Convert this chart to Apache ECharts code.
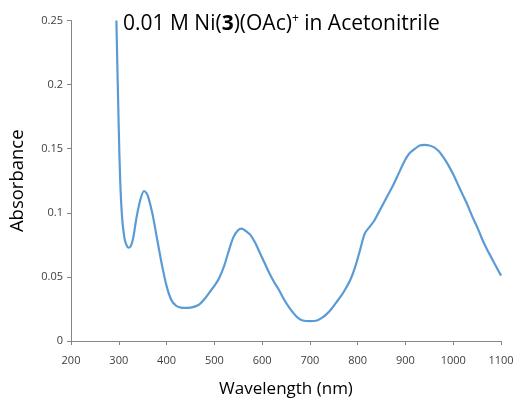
<!DOCTYPE html>
<html><head><meta charset="utf-8">
<script src="https://cdn.jsdelivr.net/npm/echarts@6/dist/echarts.min.js"></script>
<style>html,body{margin:0;padding:0;background:#fff}#c{width:518px;height:403px}</style>
</head><body><div id="c"></div>
<script>
const wavelength = [295, 300, 303, 307, 312, 316, 320, 325, 330, 337, 345, 353, 360, 370, 380, 390, 400, 410, 420, 430, 440, 450, 460, 470, 480, 490, 500, 510, 520, 530, 540, 550, 557, 565, 575, 585, 595, 605, 615, 625, 635, 645, 655, 665, 675, 685, 700, 715, 725, 735, 745, 755, 765, 775, 785, 795, 805, 815, 825, 835, 845, 855, 865, 875, 885, 895, 902, 910, 920, 930, 940, 950, 960, 970, 980, 990, 1000, 1010, 1020, 1030, 1040, 1050, 1060, 1070, 1080, 1090, 1100];
const absorbance = [0.25, 0.165, 0.125, 0.096, 0.080, 0.075, 0.0728, 0.074, 0.080, 0.096, 0.110, 0.117, 0.114, 0.100, 0.080, 0.060, 0.043, 0.032, 0.0275, 0.026, 0.0258, 0.026, 0.027, 0.029, 0.033, 0.038, 0.043, 0.049, 0.058, 0.070, 0.081, 0.0865, 0.0877, 0.086, 0.083, 0.077, 0.069, 0.061, 0.053, 0.046, 0.040, 0.033, 0.027, 0.022, 0.018, 0.016, 0.0155, 0.016, 0.018, 0.021, 0.025, 0.030, 0.035, 0.041, 0.048, 0.058, 0.071, 0.084, 0.089, 0.094, 0.101, 0.108, 0.115, 0.122, 0.130, 0.138, 0.143, 0.147, 0.150, 0.1525, 0.153, 0.1525, 0.151, 0.148, 0.143, 0.137, 0.130, 0.122, 0.114, 0.106, 0.097, 0.089, 0.080, 0.072, 0.065, 0.058, 0.051];
const xTicks = [200, 1100, 100];
const yTicks = [0, 0.25, 0.05];
const chart = echarts.init(document.getElementById('c'), null, {renderer: 'canvas'});
const lab = {color: '#404040', fontSize: 11, fontFamily: 'Open Sans'};
chart.setOption({
  animation: false,
  backgroundColor: '#fff',
  title: {
    text: '0.01 M Ni({b|3})(OAc){s|+} in Acetonitrile',
    left: 118, top: 8,
    textStyle: {
      fontSize: 21, fontWeight: 'normal', color: '#000', fontFamily: 'Open Sans',
      rich: {
        b: {fontSize: 21, fontWeight: 'bold', color: '#000', fontFamily: 'Open Sans'},
        s: {fontSize: 12, color: '#000', fontFamily: 'Open Sans', verticalAlign: 'top', padding: [0, 0, 10, 0]}
      }
    }
  },
  grid: {left: 71, right: 17, top: 20.5, bottom: 59, containLabel: false},
  xAxis: {
    type: 'value', min: xTicks[0], max: xTicks[1], interval: xTicks[2],
    name: 'Wavelength (nm)', nameLocation: 'middle', nameGap: 40,
    nameTextStyle: {fontSize: 17, color: '#000', fontFamily: 'Open Sans'},
    axisLine: {lineStyle: {color: '#868686'}},
    axisTick: {show: true, length: 4, lineStyle: {color: '#868686'}},
    axisLabel: Object.assign({margin: 14, formatter: v => String(v)}, lab),
    splitLine: {show: false}
  },
  yAxis: {
    type: 'value', min: yTicks[0], max: yTicks[1], interval: yTicks[2],
    name: 'Absorbance', nameLocation: 'middle', nameGap: 44,
    nameTextStyle: {fontSize: 18.5, color: '#000', fontFamily: 'Open Sans'},
    axisLine: {show: true, lineStyle: {color: '#868686'}},
    axisTick: {show: true, length: 4, lineStyle: {color: '#868686'}},
    axisLabel: Object.assign({margin: 8, formatter: v => String(+v.toFixed(2))}, lab),
    splitLine: {show: false}
  },
  series: [{
    type: 'line', data: wavelength.map((w, i) => [w, absorbance[i]]),
    smooth: 0.3, showSymbol: false, clip: true,
    lineStyle: {color: '#5B9BD5', width: 2.2}
  }]
});
</script></body></html>
